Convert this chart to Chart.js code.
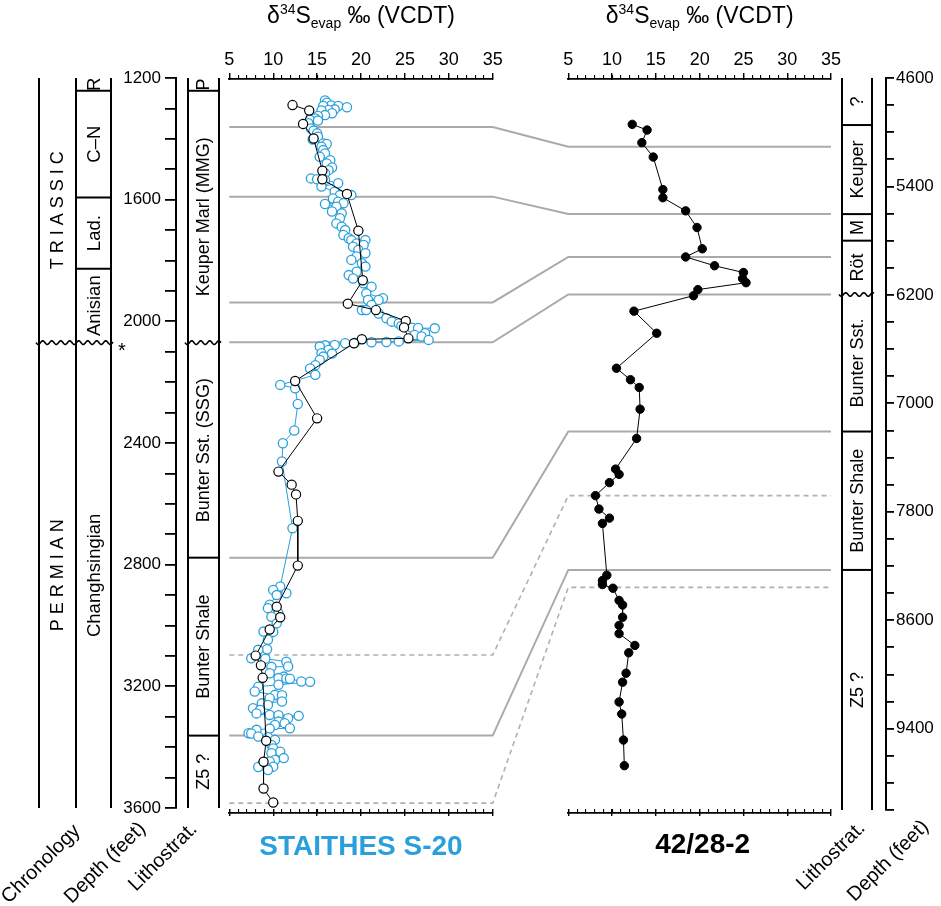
<!DOCTYPE html>
<html>
<head>
<meta charset="utf-8">
<script src="https://cdn.jsdelivr.net/npm/chart.js@4/dist/chart.umd.min.js"></script>
<style>html,body{margin:0;padding:0;background:#fff;}canvas{display:block;}</style>
</head>
<body>
<canvas id="c" width="941" height="906"></canvas>
<script>
// ---------------- DATA ----------------
const xTickMin = 5, xTickMax = 35, xMajorStep = 5, xMinorStep = 1;
const leftDepthMin = 1200, leftDepthMax = 3600, leftDepthStep = 100, leftLabelStep = 400;
const rightDepthMin = 4600, rightDepthMax = 10000, rightDepthStep = 200, rightLabelStep = 800;

// Staithes S-20, evaporite samples (blue open circles)
const staithesBlueValue = [15.9,16.1,16.6,15.7,17.4,18.4,17.0,16.3,15.5,16.7,15.9,15.1,14.8,14.2,15.1,14.0,14.3,14.6,15.0,15.1,14.5,15.7,16.1,15.5,15.7,15.9,15.3,16.5,16.1,16.7,16.3,15.9,14.3,15.0,15.9,17.4,15.5,17.0,17.6,18.9,16.8,17.4,18.0,15.9,17.2,16.7,17.8,17.6,17.2,17.8,18.2,18.0,18.6,18.9,20.5,19.5,20.3,19.1,19.7,20.5,19.5,18.9,20.1,20.5,19.5,18.6,19.1,20.3,21.2,20.6,22.5,20.8,22.0,21.2,20.1,20.6,22.0,22.9,23.5,24.3,24.6,25.8,26.5,28.4,27.3,26.1,26.9,27.7,24.3,22.9,21.2,19.3,18.2,17.0,15.9,15.3,16.3,15.5,16.7,15.7,15.3,14.8,14.2,14.8,10.8,12.5,12.8,12.4,11.1,11.0,12.2,10.8,10.0,11.5,10.4,9.6,9.4,10.6,9.8,10.4,8.9,10.0,9.4,9.3,8.3,7.5,9.1,11.5,11.7,9.8,9.6,11.2,10.6,11.5,11.9,13.2,14.2,10.6,8.3,7.9,10.2,11.0,9.6,11.0,8.7,9.4,7.7,8.5,8.1,9.6,10.6,12.9,11.7,10.6,11.3,10.2,11.9,9.6,8.1,7.2,7.5,8.3,9.4,10.2,9.8,10.0,10.8,9.8,11.2,10.2,9.6,8.7,10.0,8.3,9.3,9.4];
const staithesBlueDepth = [1274,1281,1290,1292,1292,1296,1303,1305,1307,1316,1322,1325,1333,1338,1340,1349,1366,1373,1382,1393,1402,1415,1417,1426,1437,1448,1459,1470,1481,1494,1503,1513,1530,1533,1535,1546,1557,1574,1585,1585,1596,1607,1612,1614,1623,1639,1645,1661,1678,1689,1700,1716,1727,1733,1733,1744,1749,1755,1765,1776,1787,1798,1809,1820,1837,1848,1859,1875,1886,1908,1924,1930,1930,1946,1963,1963,1974,1990,2001,2007,2015,2021,2022,2023,2039,2045,2050,2061,2066,2068,2069,2070,2072,2078,2079,2083,2094,2105,2106,2116,2127,2144,2155,2176,2209,2220,2272,2359,2401,2461,2680,2872,2883,2894,2900,2932,2943,2960,2971,2993,3020,3021,3047,3078,3080,3108,3109,3119,3135,3136,3157,3168,3173,3174,3175,3184,3185,3195,3201,3217,3228,3229,3239,3250,3256,3261,3272,3278,3289,3294,3295,3297,3305,3316,3321,3327,3338,3339,3343,3354,3355,3365,3367,3376,3393,3404,3415,3420,3436,3442,3447,3458,3464,3465,3469,3475];

// Staithes S-20, second series (black open circles)
const staithesBlackValue = [12.2,14.1,13.4,14.6,15.6,15.6,18.4,19.7,20.2,18.5,21.7,25.1,24.9,25.4,20.1,19.2,12.5,15.0,10.6,12.1,12.6,12.8,12.8,10.4,10.8,9.6,8.0,8.6,8.8,9.2,8.9,8.9,10.0];
const staithesBlackDepth = [1289,1307,1351,1399,1505,1533,1581,1702,1865,1942,1963,1999,2020,2056,2059,2072,2196,2319,2494,2537,2569,2656,2803,2938,2973,3013,3099,3131,3172,3379,3448,3536,3582];

// Well 42/28-2 (black dots)
const well42Value = [12.3,14.0,13.4,14.7,15.8,15.8,18.4,19.7,20.3,18.4,21.7,25.0,24.9,25.3,19.8,19.3,12.5,15.1,10.5,12.1,13.1,13.2,12.8,10.4,10.8,9.7,8.1,8.5,9.7,8.9,9.4,8.9,8.9,10.1,10.8,11.2,11.2,10.8,10.8,12.6,11.9,11.6,11.2,10.8,11.1,11.3,11.4];
const well42Depth = [4942,4984,5077,5183,5423,5483,5580,5703,5860,5920,5985,6035,6080,6110,6161,6206,6320,6483,6741,6826,6883,7043,7259,7485,7524,7585,7681,7780,7847,7886,8268,8307,8337,8364,8454,8488,8578,8638,8699,8786,8840,8991,9057,9203,9292,9484,9673];

// Correlation lines (left depth <-> right depth)
const corrLeftDepth  = [1361, 1590, 1938, 2069, 2777, 3097, 3362, 3584];
const corrRightDepth = [5107, 5604, 5920, 6197, 7208, 7681, 8229, 8358];
const corrDashed     = [false, false, false, false, false, true, false, true];

// Chronology (left)
const systemNames = ['T R I A S S I C', 'P E R M I A N'];
const systemTops  = [1200, 2070];
const stageNames  = ['R', 'C\u2013N', 'Lad.', 'Anisian', 'Changhsingian'];
const stageTops   = [1200, 1242, 1593, 1827, 2070];
const leftUnconformity = 2070;

// Lithostratigraphy
const leftLithoNames  = ['P', 'Keuper Marl (MMG)', 'Bunter Sst. (SSG)', 'Bunter Shale', 'Z5 ?'];
const leftLithoTops   = [1200, 1242, 2070, 2777, 3362];
const rightLithoNames = ['?', 'Keuper', 'M', 'R\u00f6t', 'Bunter Sst.', 'Bunter Shale', 'Z5 ?'];
const rightLithoTops  = [4600, 4947, 5604, 5800, 6197, 7208, 8229];
const rightUnconformity = 6197;

const leftWellName = 'STAITHES S-20';
const rightWellName = '42/28-2';

// ---------------- STYLE / LAYOUT ----------------
const FONT = 'Liberation Sans, Arial, Helvetica, sans-serif';
const BLUE = '#29a0db';
const LAY = {
  xL: [229.3, 492.7], xR: [568.3, 831],
  top: 78, botL: 808, botR: 810,
  chronoX: [39, 76, 111], depthAxisL: 176, lithoL: [188, 219],
  lithoR: [842, 872], depthAxisR: 886
};

const pairs = (xs, ys) => xs.map((v, i) => ({x: v, y: ys[i]}));

function xAxis(major, showLabels, showBorder) {
  return {
    type: 'linear', position: 'top', min: xTickMin, max: xTickMax,
    ticks: {
      stepSize: major ? xMajorStep : xMinorStep, autoSkip: false, maxRotation: 0,
      display: showLabels, color: '#000', padding: 2,
      font: {family: FONT, size: 18}, callback: v => String(v)
    },
    grid: {display: true, drawOnChartArea: false, drawTicks: true,
           tickLength: major ? 7 : 3.5, color: '#000', lineWidth: major ? 1.4 : 1.1},
    border: {display: showBorder, color: '#000', width: 1.8}
  };
}

const layoutPlugin = {
  id: 'panelLayout',
  afterLayout(chart) {
    const place = (id, l, r, t, b) => {
      const s = chart.scales[id];
      s.left = l; s.right = r; s.top = t; s.bottom = b;
      s.width = r - l; s.height = b - t;
      s.configure();
    };
    place('xL',   LAY.xL[0], LAY.xL[1], 30, LAY.top + 2);
    place('xLm',  LAY.xL[0], LAY.xL[1], 60, LAY.top + 0.5);
    place('xLb',  LAY.xL[0], LAY.xL[1], 780, LAY.botL + 8);
    place('xLbm', LAY.xL[0], LAY.xL[1], 790, LAY.botL + 4.5);
    place('xR',   LAY.xR[0], LAY.xR[1], 30, LAY.top + 2);
    place('xRm',  LAY.xR[0], LAY.xR[1], 60, LAY.top + 0.5);
    place('xRb',  LAY.xR[0], LAY.xR[1], 780, LAY.botR + 6);
    place('xRbm', LAY.xR[0], LAY.xR[1], 790, LAY.botR + 2.5);
    place('yL', 90, LAY.depthAxisL, LAY.top, LAY.botL);
    place('yR', LAY.depthAxisR, 941, LAY.top, LAY.botR);
  }
};

function vText(ctx, text, cx, cy, size) {
  ctx.save();
  ctx.translate(cx, cy);
  ctx.rotate(-Math.PI / 2);
  ctx.font = size + 'px ' + FONT;
  ctx.textAlign = 'center';
  ctx.textBaseline = 'middle';
  ctx.fillText(text, 0, 1);
  ctx.restore();
}
function hLine(ctx, x1, x2, y) { ctx.beginPath(); ctx.moveTo(x1, y); ctx.lineTo(x2, y); ctx.stroke(); }
function vLine(ctx, x, y1, y2) { ctx.beginPath(); ctx.moveTo(x, y1); ctx.lineTo(x, y2); ctx.stroke(); }
function wavy(ctx, x1, x2, y) {
  ctx.beginPath();
  for (let x = x1; x <= x2; x += 0.5) {
    const yy = y + 1.8 * Math.sin((x - x1) / 9 * 2 * Math.PI);
    if (x === x1) ctx.moveTo(x, yy); else ctx.lineTo(x, yy);
  }
  ctx.stroke();
}
function diagText(ctx, text, cx, cy) {
  ctx.save();
  ctx.translate(cx, cy);
  ctx.rotate(-Math.PI / 4);
  ctx.font = '20px ' + FONT;
  ctx.textAlign = 'center';
  ctx.textBaseline = 'alphabetic';
  ctx.fillText(text, 0, 0);
  ctx.restore();
}
function axisTitle(ctx, cx, baseline) {
  const big = '23px ' + FONT, small = '14px ' + FONT;
  const parts = [
    ['\u03b4', big, 0], ['34', small, -9], ['S', big, 0], ['evap', small, 5], [' \u2030 (VCDT)', big, 0]
  ];
  let total = 0;
  parts.forEach(p => { ctx.font = p[1]; total += ctx.measureText(p[0]).width; });
  let x = cx - total / 2;
  ctx.textAlign = 'left'; ctx.textBaseline = 'alphabetic';
  parts.forEach(p => { ctx.font = p[1]; ctx.fillText(p[0], x, baseline + p[2]); x += ctx.measureText(p[0]).width; });
}

const decorPlugin = {
  id: 'decor',
  beforeDatasetsDraw(chart) {
    const ctx = chart.ctx, s = chart.scales;
    ctx.save();
    corrLeftDepth.forEach((dl, i) => {
      const y1 = s.yL.getPixelForValue(dl), y2 = s.yR.getPixelForValue(corrRightDepth[i]);
      ctx.beginPath();
      ctx.moveTo(s.xL.getPixelForValue(xTickMin), y1);
      ctx.lineTo(s.xL.getPixelForValue(xTickMax), y1);
      ctx.lineTo(s.xR.getPixelForValue(xTickMin), y2);
      ctx.lineTo(s.xR.getPixelForValue(xTickMax), y2);
      if (corrDashed[i]) { ctx.setLineDash([5, 4]); ctx.strokeStyle = '#b0b0b0'; ctx.lineWidth = 1.6; }
      else { ctx.setLineDash([]); ctx.strokeStyle = '#aaaaaa'; ctx.lineWidth = 2; }
      ctx.stroke();
    });
    ctx.restore();
  },
  afterDraw(chart) {
    const ctx = chart.ctx, s = chart.scales;
    const yL = v => s.yL.getPixelForValue(v), yR = v => s.yR.getPixelForValue(v);
    ctx.save();
    ctx.fillStyle = '#000'; ctx.strokeStyle = '#000'; ctx.lineWidth = 2; ctx.setLineDash([]);
    const t = yL(leftDepthMin), b = yL(leftDepthMax);
    // chronology columns
    LAY.chronoX.forEach(x => vLine(ctx, x, t, b));
    LAY.lithoL.forEach(x => vLine(ctx, x, t, b));
    stageTops.forEach((d, i) => { if (i > 0 && d !== leftUnconformity) hLine(ctx, LAY.chronoX[1], LAY.chronoX[2], yL(d)); });
    leftLithoTops.forEach((d, i) => { if (i > 0 && d !== leftUnconformity) hLine(ctx, LAY.lithoL[0], LAY.lithoL[1], yL(d)); });
    ctx.lineWidth = 1.6;
    wavy(ctx, LAY.chronoX[0] - 3, LAY.chronoX[2] + 2, yL(leftUnconformity));
    wavy(ctx, LAY.lithoL[0] - 3, LAY.lithoL[1] + 2, yL(leftUnconformity));
    ctx.font = '20px ' + FONT; ctx.textAlign = 'center'; ctx.textBaseline = 'alphabetic';
    ctx.fillText('*', LAY.chronoX[2] + 11, yL(leftUnconformity) + 14);
    // labels
    const cx1 = (LAY.chronoX[0] + LAY.chronoX[1]) / 2, cx2 = (LAY.chronoX[1] + LAY.chronoX[2]) / 2;
    systemNames.forEach((n, i) => {
      const d2 = i + 1 < systemTops.length ? systemTops[i + 1] : leftDepthMax;
      vText(ctx, n, cx1, (yL(systemTops[i]) + yL(d2)) / 2, 18);
    });
    stageNames.forEach((n, i) => {
      const d2 = i + 1 < stageTops.length ? stageTops[i + 1] : leftDepthMax;
      vText(ctx, n, cx2, (yL(stageTops[i]) + yL(d2)) / 2, 18.5);
    });
    const lcx = (LAY.lithoL[0] + LAY.lithoL[1]) / 2;
    leftLithoNames.forEach((n, i) => {
      const d2 = i + 1 < leftLithoTops.length ? leftLithoTops[i + 1] : leftDepthMax;
      vText(ctx, n, lcx, (yL(leftLithoTops[i]) + yL(d2)) / 2, 18);
    });
    // right lithostrat column
    ctx.lineWidth = 2;
    const tr = yR(rightDepthMin), br = yR(rightDepthMax);
    LAY.lithoR.forEach(x => vLine(ctx, x, tr, br));
    rightLithoTops.forEach((d, i) => { if (i > 0 && d !== rightUnconformity) hLine(ctx, LAY.lithoR[0], LAY.lithoR[1], yR(d)); });
    ctx.lineWidth = 1.6;
    wavy(ctx, LAY.lithoR[0] - 3, LAY.lithoR[1] + 2, yR(rightUnconformity));
    const rcx = (LAY.lithoR[0] + LAY.lithoR[1]) / 2;
    rightLithoNames.forEach((n, i) => {
      const d2 = i + 1 < rightLithoTops.length ? rightLithoTops[i + 1] : rightDepthMax;
      vText(ctx, n, rcx, (yR(rightLithoTops[i]) + yR(d2)) / 2, 18);
    });
    // titles
    axisTitle(ctx, (s.xL.left + s.xL.right) / 2, 23);
    axisTitle(ctx, (s.xR.left + s.xR.right) / 2, 23);
    ctx.textAlign = 'center'; ctx.textBaseline = 'alphabetic';
    ctx.font = 'bold 28px ' + FONT;
    ctx.fillStyle = BLUE; ctx.fillText(leftWellName, (s.xL.left + s.xL.right) / 2, 855);
    ctx.fillStyle = '#000'; ctx.fillText(rightWellName, (s.xR.left + s.xR.right) / 2 + 3, 853);
    // bottom column captions
    diagText(ctx, 'Chronology', 45, 868);
    diagText(ctx, 'Depth (feet)', 109, 867);
    diagText(ctx, 'Lithostrat.', 167, 861);
    diagText(ctx, 'Lithostrat.', 835, 860);
    diagText(ctx, 'Depth (feet)', 892, 865);
    ctx.restore();
  }
};

new Chart(document.getElementById('c'), {
  type: 'scatter',
  data: {
    datasets: [
      {
        data: pairs(staithesBlackValue, staithesBlackDepth), xAxisID: 'xL', yAxisID: 'yL',
        showLine: true, borderColor: '#000', borderWidth: 1, tension: 0,
        pointRadius: 4.6, pointBorderWidth: 1.2, pointBorderColor: '#000', pointBackgroundColor: '#fff', clip: false
      },
      {
        data: pairs(staithesBlueValue, staithesBlueDepth), xAxisID: 'xL', yAxisID: 'yL',
        showLine: true, borderColor: BLUE, borderWidth: 1, tension: 0,
        pointRadius: 4.6, pointBorderWidth: 1.3, pointBorderColor: BLUE, pointBackgroundColor: '#fff', clip: false
      },
      {
        data: pairs(well42Value, well42Depth), xAxisID: 'xR', yAxisID: 'yR',
        showLine: true, borderColor: '#000', borderWidth: 1, tension: 0,
        pointRadius: 4.2, pointBorderWidth: 1, pointBorderColor: '#000', pointBackgroundColor: '#000', clip: false
      }
    ]
  },
  options: {
    responsive: false, animation: false, events: [],
    plugins: {legend: {display: false}, tooltip: {enabled: false}, title: {display: false}},
    scales: {
      xL: xAxis(true, true, false), xLm: xAxis(false, false, true),
      xLb: xAxis(true, false, false), xLbm: xAxis(false, false, true),
      xR: xAxis(true, true, false), xRm: xAxis(false, false, true),
      xRb: xAxis(true, false, false), xRbm: xAxis(false, false, true),
      yL: {
        type: 'linear', position: 'left', reverse: true, min: leftDepthMin, max: leftDepthMax,
        ticks: {stepSize: leftDepthStep, autoSkip: false, color: '#000', padding: 4,
                font: {family: FONT, size: 17},
                callback: v => (v % leftLabelStep === 0 ? String(v) : '')},
        grid: {display: true, drawOnChartArea: false, drawTicks: true, tickLength: 11, color: '#000', lineWidth: 1.8},
        border: {display: true, color: '#000', width: 2}
      },
      yR: {
        type: 'linear', position: 'right', reverse: true, min: rightDepthMin, max: rightDepthMax,
        ticks: {stepSize: rightDepthStep, autoSkip: false, color: '#000', padding: 2,
                font: {family: FONT, size: 17},
                callback: v => ((v - rightDepthMin) % rightLabelStep === 0 && v < rightDepthMax ? String(v) : '')},
        grid: {display: true, drawOnChartArea: false, drawTicks: true, tickLength: 8, color: '#000', lineWidth: 1.8},
        border: {display: true, color: '#000', width: 2}
      }
    }
  },
  plugins: [layoutPlugin, decorPlugin]
});
</script>
</body>
</html>
